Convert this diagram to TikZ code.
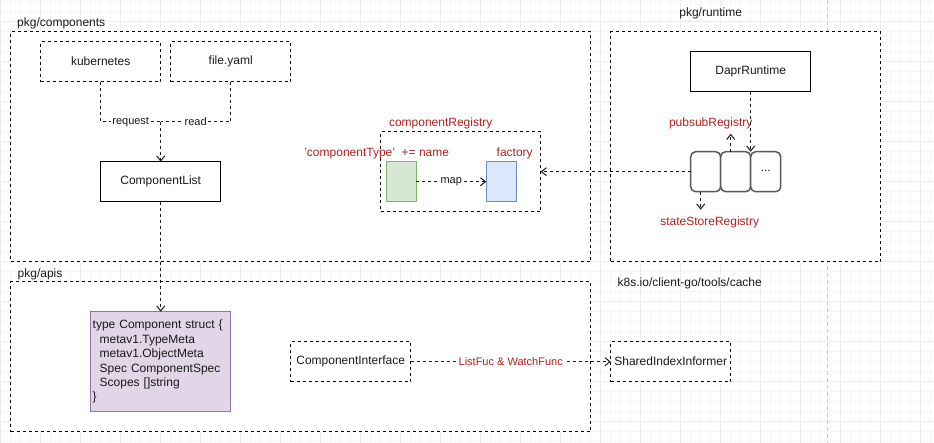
\documentclass[tikz,border=0pt]{standalone}
\usepackage{fontspec}
\setmainfont{Liberation Sans}
\usetikzlibrary{arrows.meta}

\definecolor{regred}{HTML}{B3211E}
\definecolor{inkgray}{HTML}{1A1A1A}
\definecolor{greenfill}{HTML}{D5E8D4}
\definecolor{greenline}{HTML}{82B366}
\definecolor{bluefill}{HTML}{DAE8FC}
\definecolor{blueline}{HTML}{6C8EBF}
\definecolor{purplefill}{HTML}{E1D5E7}
\definecolor{purpleline}{HTML}{9673A6}

\begin{document}
\begin{tikzpicture}[x=1pt,y=-1pt,
  font=\fontsize{12}{14.4}\selectfont, text=inkgray,
  every node/.style={outer sep=0pt},
  gridminor/.style={draw=gray!6, line width=0.8pt},
  gridmajor/.style={draw=gray!14, line width=0.8pt},
  pagebreak/.style={draw=gray!45, line width=0.8pt, dash pattern=on 4pt off 3pt},
  pkgframe/.style={draw, fill=white, line width=1pt, dash pattern=on 3pt off 3pt,
    anchor=north west, inner sep=0pt},
  dashedbox/.style={draw, fill=white, line width=1pt, dash pattern=on 3pt off 3pt,
    minimum width=120, minimum height=40, inner sep=0pt},
  solidbox/.style={draw, fill=white, line width=1pt, minimum width=120, minimum height=40},
  slot/.style={draw=gray!70!black, fill=white, line width=1.5pt, rounded corners=5pt,
    minimum width=30, minimum height=40, inner sep=0pt},
  mapbox/.style={line width=1pt, minimum width=30, minimum height=40},
  pkglabel/.style={inner sep=0pt, yshift=-1.5pt},
  redlabel/.style={text=regred, inner sep=0pt, yshift=-1.5pt},
  link/.style={draw=inkgray, line width=1pt, dash pattern=on 3pt off 3pt},
  linkarrow/.style={link, -{Straight Barb[length=5pt,width=8pt,line width=1pt]}},
  edgelabel/.style={fill=white, inner sep=1pt, font=\fontsize{11}{13}\selectfont}
]
\useasboundingbox (0,0) rectangle (934,442);
\begin{scope}[shift={(0.7,1.7)}]
% background grid
\foreach \gx in {0,10,...,930} \draw[gridminor] (\gx,-2) -- (\gx,442);
\foreach \gy in {0,10,...,440} \draw[gridminor] (-1,\gy) -- (934,\gy);
\foreach \gx in {0,40,...,920} \draw[gridmajor] (\gx,-2) -- (\gx,442);
\foreach \gy in {20,60,...,420} \draw[gridmajor] (-1,\gy) -- (934,\gy);
\draw[pagebreak] (827,-2) -- (827,442);

% packages
\node[pkgframe, minimum width=580, minimum height=230] (components) at (10,30) {};
\node[pkgframe, minimum width=270, minimum height=230] (runtime) at (610,30) {};
\node[pkgframe, minimum width=580, minimum height=150] (apis) at (10,280) {};
\node[pkglabel, anchor=west] (componentstitle) at (16.5,20) {pkg/components};
\node[pkglabel] (runtimetitle) at (710,10.5) {pkg/runtime};
\node[pkglabel, anchor=west] (apistitle) at (17,271) {pkg/apis};
\node[pkglabel, anchor=west] (cachetitle) at (617,280) {k8s.io/client-go/tools/cache};

% pkg/components
\node[dashedbox] (kube) at (100,60) {kubernetes};
\node[dashedbox] (yaml) at (230,60) {file.yaml};
\node[solidbox] (clist) at (160,180) {ComponentList};
\coordinate (join) at (160,120);
\draw[link] (kube.south) |- node[edgelabel, pos=0.75] {request} (join);
\draw[link] (yaml.south) |- node[edgelabel, pos=0.75] {read} (join);
\draw[linkarrow] (join) -- (clist.north);

\node[dashedbox, minimum width=160, minimum height=80] (registry) at (460,170) {};
\node[redlabel] (registrytitle) at (440,120) {componentRegistry};
\node[redlabel] (typelabel) at (376,150) {'componentType'\ \ += name};
\node[redlabel] (factorylabel) at (514,150) {factory};
\node[mapbox, draw=greenline, fill=greenfill] (keycell) at (400.5,180) {};
\node[mapbox, draw=blueline, fill=bluefill] (factorycell) at (500.5,180) {};
\draw[linkarrow] (keycell.east) -- node[edgelabel] {map} (factorycell.west);

% pkg/runtime
\node[solidbox] (dapr) at (750,70) {DaprRuntime};
\node[slot] (slota) at (705,170) {};
\node[slot] (slotb) at (735,170) {};
\node[slot] (slotc) at (765,170) {\raisebox{2pt}{...}};
\node[redlabel] (pubsublabel) at (710,120) {pubsubRegistry};
\node[redlabel] (statelabel) at (709,219.5) {stateStoreRegistry};
\coordinate (pubsubtip) at (730,132);
\coordinate (statetip) at (700,208);
\draw[linkarrow] (dapr.south) -- (slotb.north east);
\draw[linkarrow] (slotb.north -| pubsubtip) -- (pubsubtip);
\draw[linkarrow] (slota.south -| statetip) -- (statetip);
\draw[linkarrow] (slota.west) -- (registry.east);

% pkg/apis
\node[draw=purpleline, fill=purplefill, line width=1pt, text width=136, inner xsep=2pt,
  minimum height=100, align=left] (struct) at (160,360)
  {type Component struct \{\\
   \hspace*{7pt}metav1.TypeMeta\\
   \hspace*{7pt}metav1.ObjectMeta\\
   \hspace*{7pt}Spec ComponentSpec\\
   \hspace*{7pt}Scopes []string\\
   \}};
\draw[linkarrow] (clist.south) -- (struct.north);

\node[dashedbox] (iface) at (350,360) {ComponentInterface};
\node[dashedbox] (informer) at (670,360) {SharedIndexInformer};
\draw[linkarrow] (iface.east) -- node[edgelabel, text=regred] {ListFuc \& WatchFunc} (informer.west);
\end{scope}
\end{tikzpicture}
\end{document}
